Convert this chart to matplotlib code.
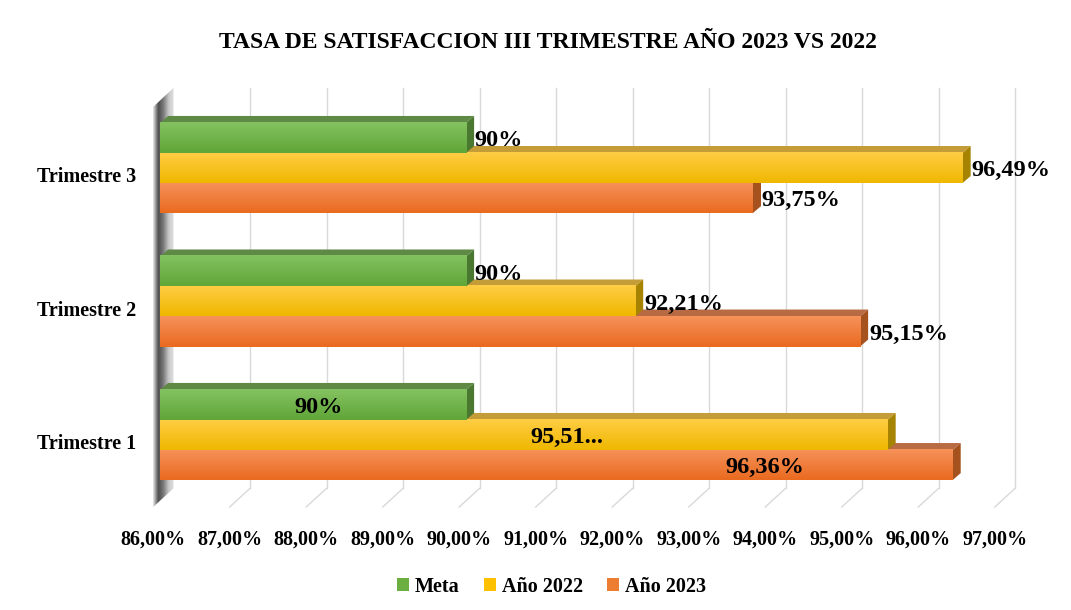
import numpy as np
import matplotlib.pyplot as plt
from matplotlib.colors import LinearSegmentedColormap
from matplotlib.patches import Polygon, Patch

# data
trimestres = ["Trimestre 1", "Trimestre 2", "Trimestre 3"]
meta = [90, 90, 90]
anio_2022 = [95.51, 92.21, 96.49]
anio_2023 = [96.36, 95.15, 93.75]
labels_meta = ["90%", "90%", "90%"]
labels_2022 = ["95,51...", "92,21%", "96,49%"]
labels_2023 = ["96,36%", "95,15%", "93,75%"]
x_ticks = [86, 87, 88, 89, 90, 91, 92, 93, 94, 95, 96, 97]
x_ticklabels = ["%d,00%%" % t for t in x_ticks]

FONT = "Liberation Serif"
BASE = 86
DX, DY = 0.105, 0.052      # bar depth (3d look)
GX, GY = 0.176, 0.14       # back wall offset
H = 0.225                  # bar height

series = [
    # name, values, labels, offset, front top, front bottom, top face, side face, legend
    ("Año 2023", anio_2023, labels_2023, -H, "#f6925a", "#ea6a20", "#b86b42", "#a5521f", "#ed7d31"),
    ("Año 2022", anio_2022, labels_2022, 0.0, "#ffcd45", "#efb800", "#c49c38", "#a68300", "#ffc000"),
    ("Meta", meta, labels_meta, H, "#84c261", "#60a638", "#5f8a45", "#4b7830", "#6aaf3f"),
]
# labels of trimestre 1 sit inside the bars
inside_x = {"Meta": 88.07, "Año 2022": 91.32, "Año 2023": 93.9}

fig = plt.figure(figsize=(10.71, 6.10), dpi=100)
ax = fig.add_axes([0.1387, 0.1666, 0.8144, 0.7003])
ax.set_xlim(85.85, 97.25)
ax.set_ylim(-0.55, 2.65)
for s in ax.spines.values():
    s.set_visible(False)

y0 = -0.54
# gridlines on the back wall + floor diagonals
for v in x_ticks[1:]:
    ax.plot([v + GX, v + GX], [y0 + GY, 2.60], color="#d9d9d9", lw=1, zorder=1)
    ax.plot([v - 0.09, v + GX], [y0, y0 + GY], color="#d9d9d9", lw=1, zorder=1)

# left side wall with gradient
wall = Polygon([[85.91, y0], [BASE + GX, y0 + GY], [BASE + GX, 2.60], [85.91, 2.457]],
               closed=True, facecolor="none", edgecolor="none")
ax.add_patch(wall)
wall_cmap = LinearSegmentedColormap.from_list("w", ["#e6e6e6", "#4d4d4d", "#7a7a7a", "#c8c8c8", "#e0e0e0"])
im = ax.imshow(np.linspace(0, 1, 60).reshape(1, -1), cmap=wall_cmap, aspect="auto",
               extent=[85.91, BASE + GX, y0, 2.60], zorder=2, interpolation="bicubic")
im.set_clip_path(wall)

z = 3
for pos in range(len(trimestres)):
    for name, vals, labs, off, c_top, c_bot, c_face, c_side, _ in series:
        v = vals[pos]
        yb = pos + off - H / 2
        yt = yb + H
        top = Polygon([[BASE, yt], [BASE + DX, yt + DY], [v + DX, yt + DY], [v, yt]],
                      closed=True, facecolor=c_face, edgecolor="none", zorder=z)
        side = Polygon([[v, yb], [v + DX, yb + DY], [v + DX, yt + DY], [v, yt]],
                       closed=True, facecolor=c_side, edgecolor="none", zorder=z)
        ax.add_patch(top)
        ax.add_patch(side)
        cm = LinearSegmentedColormap.from_list(name, [c_top, c_bot])
        ax.imshow(np.linspace(0, 1, 40).reshape(-1, 1), cmap=cm, aspect="auto", origin="upper",
                  extent=[BASE, v, yb, yt], zorder=z + 0.5, interpolation="bicubic")
        z += 1
        if pos == 0:
            ax.text(inside_x[name], pos + off - 0.02, labs[pos], ha="center", va="center",
                    fontsize=17.5, fontweight="bold", family=FONT, zorder=50)
        else:
            ax.text(v + DX + 0.01, pos + off - 0.02, labs[pos], ha="left", va="center",
                    fontsize=17.5, fontweight="bold", family=FONT, zorder=50)

ax.set_xlim(85.85, 97.25)
ax.set_ylim(-0.55, 2.65)
ax.set_xticks(np.array(x_ticks) - 0.09, x_ticklabels)
ax.set_yticks(np.arange(len(trimestres)) - 0.05, trimestres)
ax.tick_params(axis="x", length=0, pad=15)
ax.tick_params(axis="y", length=0, pad=9)
for lab in ax.get_xticklabels() + ax.get_yticklabels():
    lab.set_fontfamily(FONT)
    lab.set_fontweight("bold")
    lab.set_fontsize(14.5)

fig.text(0.512, 0.93, "TASA DE SATISFACCION III TRIMESTRE AÑO 2023 VS 2022", ha="center", va="center",
         fontsize=17, fontweight="bold", family=FONT)

handles = [Patch(facecolor=s[8], label=s[0]) for s in series[::-1]]
fig.legend(handles=handles, loc="center", bbox_to_anchor=(0.515, 0.038), ncol=3, frameon=False,
           handlelength=0.6, handleheight=0.6, handletextpad=0.3, columnspacing=1.2,
           prop={"family": FONT, "weight": "bold", "size": 14.5})

fig.savefig("out.png", dpi=100)
